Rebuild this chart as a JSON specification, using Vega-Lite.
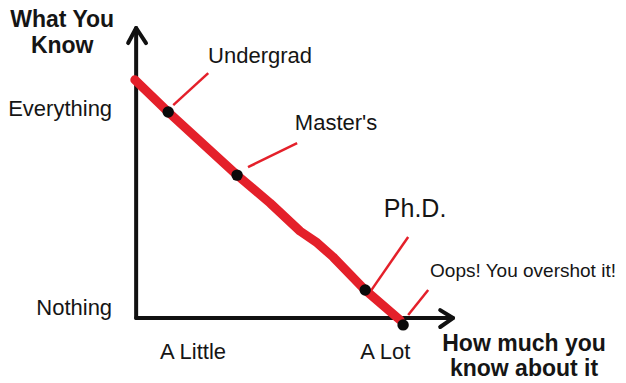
{
  "$schema": "https://vega.github.io/schema/vega-lite/v6.json",
  "width": 626,
  "height": 383,
  "padding": 0,
  "autosize": {"type": "fit", "contains": "padding"},
  "background": "white",
  "config": {"view": {"stroke": null}, "text": {"font": "Liberation Sans", "color": "#151515"}},
  "datasets": {
    "curve": [
      {"know": -0.5, "what": 114},
      {"know": 12.0, "what": 98.6},
      {"know": 37.8, "what": 68.4},
      {"know": 50.2, "what": 55.0},
      {"know": 61.4, "what": 41.6},
      {"know": 67.8, "what": 36.0},
      {"know": 73.8, "what": 29.2},
      {"know": 85.8, "what": 13.4},
      {"know": 98.9, "what": -1}
    ],
    "stages": [
      {"stage": "Undergrad", "know": 12.0, "what": 98.6, "lx": 13.9, "ly": 101.9, "lx2": 27.0, "ly2": 117.2},
      {"stage": "Master's", "know": 37.8, "what": 68.4, "lx": 41.9, "ly": 72.2, "lx2": 60.3, "ly2": 83.7},
      {"stage": "Ph.D.", "know": 85.8, "what": 13.4, "lx": 87.6, "ly": 12.4, "lx2": 101.9, "ly2": 38.8},
      {"stage": "Oops", "know": 100, "what": -3.3, "lx": 101.9, "ly": 1.4, "lx2": 109.4, "ly2": 13.4}
    ],
    "axes": [
      {"part": "yaxis", "ord": 0, "know": 0, "what": 0},
      {"part": "yaxis", "ord": 1, "know": 0, "what": 138.8},
      {"part": "yarrow", "ord": 0, "know": -3.0, "what": 131.6},
      {"part": "yarrow", "ord": 1, "know": 0, "what": 138.8},
      {"part": "yarrow", "ord": 2, "know": 3.7, "what": 131.6},
      {"part": "xaxis", "ord": 0, "know": 0, "what": 0},
      {"part": "xaxis", "ord": 1, "know": 118.7, "what": 0},
      {"part": "xarrow", "ord": 0, "know": 113.9, "what": 3.8},
      {"part": "xarrow", "ord": 1, "know": 118.7, "what": 0},
      {"part": "xarrow", "ord": 2, "know": 113.9, "what": -4.3}
    ],
    "labels": [
      {"kind": "stage", "text": "Undergrad", "know": 46.4, "what": 125.4},
      {"kind": "stage", "text": "Master's", "know": 74.9, "what": 93.3},
      {"kind": "phd", "text": "Ph.D.", "know": 104.5, "what": 52.2},
      {"kind": "oops", "text": "Oops! You overshot it!", "know": 110.1, "what": 22.5},
      {"kind": "ytick", "text": "Everything", "know": -9.0, "what": 100},
      {"kind": "ytick", "text": "Nothing", "know": -9.0, "what": 4.8},
      {"kind": "stage", "text": "A Little", "know": 21.3, "what": -16.3},
      {"kind": "stage", "text": "A Lot", "know": 93.3, "what": -16.3},
      {"kind": "ytitle", "text": "What You", "know": -27.7, "what": 142.6},
      {"kind": "ytitle", "text": "Know", "know": -27.7, "what": 130.1},
      {"kind": "xtitle", "text": "How much you", "know": 145.3, "what": -12.4},
      {"kind": "xtitle", "text": "know about it", "know": 145.3, "what": -24.4}
    ]
  },
  "encoding": {
    "x": {"field": "know", "type": "quantitative", "scale": {"domain": [-51, 183.5], "nice": false, "zero": false}, "axis": null},
    "y": {"field": "what", "type": "quantitative", "scale": {"domain": [-31.1, 152.2], "nice": false, "zero": false}, "axis": null}
  },
  "layer": [
    {
      "data": {"name": "axes"},
      "mark": {"type": "line", "color": "#111111", "strokeWidth": 4, "strokeCap": "round", "strokeJoin": "round"},
      "encoding": {"detail": {"field": "part"}, "order": {"field": "ord"}}
    },
    {
      "data": {"name": "stages"},
      "mark": {"type": "rule", "color": "#e4202a", "strokeWidth": 2.5},
      "encoding": {
        "x": {"field": "lx", "type": "quantitative"},
        "y": {"field": "ly", "type": "quantitative"},
        "x2": {"field": "lx2"},
        "y2": {"field": "ly2"}
      }
    },
    {
      "data": {"name": "curve"},
      "mark": {"type": "line", "color": "#e4202a", "strokeWidth": 9, "strokeCap": "round", "strokeJoin": "round"},
      "encoding": {}
    },
    {
      "data": {"name": "stages"},
      "mark": {"type": "circle", "color": "#0a0a0a", "opacity": 1, "size": 130},
      "encoding": {}
    },
    {
      "data": {"name": "labels"},
      "transform": [{"filter": "datum.kind === 'stage'"}],
      "mark": {"type": "text", "fontSize": 22, "align": "center", "baseline": "middle"},
      "encoding": {"text": {"field": "text"}}
    },
    {
      "data": {"name": "labels"},
      "transform": [{"filter": "datum.kind === 'ytick'"}],
      "mark": {"type": "text", "fontSize": 22, "align": "right", "baseline": "middle"},
      "encoding": {"text": {"field": "text"}}
    },
    {
      "data": {"name": "labels"},
      "transform": [{"filter": "datum.kind === 'phd'"}],
      "mark": {"type": "text", "fontSize": 25, "align": "center", "baseline": "middle"},
      "encoding": {"text": {"field": "text"}}
    },
    {
      "data": {"name": "labels"},
      "transform": [{"filter": "datum.kind === 'oops'"}],
      "mark": {"type": "text", "fontSize": 19, "align": "left", "baseline": "middle"},
      "encoding": {"text": {"field": "text"}}
    },
    {
      "data": {"name": "labels"},
      "transform": [{"filter": "datum.kind === 'ytitle'"}],
      "mark": {"type": "text", "fontSize": 23, "fontWeight": "bold", "align": "center", "baseline": "middle"},
      "encoding": {"text": {"field": "text"}}
    },
    {
      "data": {"name": "labels"},
      "transform": [{"filter": "datum.kind === 'xtitle'"}],
      "mark": {"type": "text", "fontSize": 23, "fontWeight": "bold", "align": "center", "baseline": "middle"},
      "encoding": {"text": {"field": "text"}}
    }
  ]
}
